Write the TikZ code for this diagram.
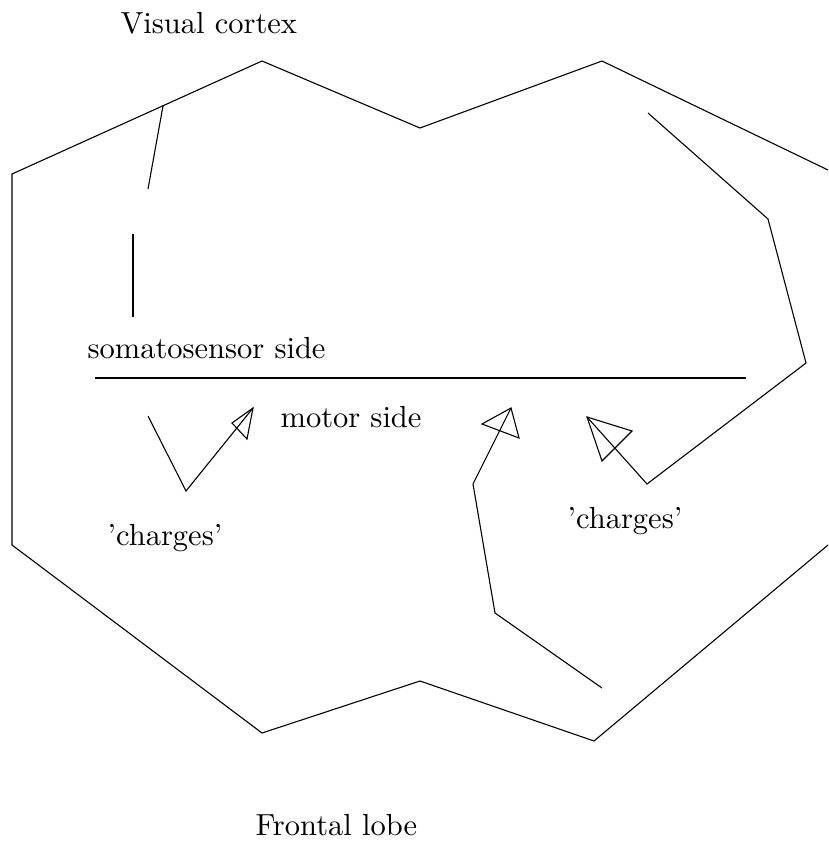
\documentclass[tikz,border=0pt]{standalone}
\usetikzlibrary{calc}
\begin{document}
\begin{tikzpicture}[x=1pt,y=-1pt,
  ln/.style={line width=1.1pt,line join=miter},
  lbl/.style={font=\fontsize{10}{12}\selectfont,scale=3.05,inner sep=0pt,anchor=base west}]
\useasboundingbox (0,0) rectangle (828,849);
% outer outline
\coordinate (o1) at (828,170);
\coordinate (o2) at (602,61);
\coordinate (o3) at (420,128);
\coordinate (o4) at (262,61);
\coordinate (o5) at (12,174);
\coordinate (o6) at (12,545);
\coordinate (o7) at (262,733);
\coordinate (o8) at (420,681);
\coordinate (o9) at (594,741);
\coordinate (o10) at (828,545);
\draw[ln] (o1) -- (o2) -- (o3) -- (o4) -- (o5) -- (o6) -- (o7) -- (o8) -- (o9) -- (o10);
% short lines
\coordinate (v1) at (163,106);
\coordinate (v2) at (148,189);
\draw[ln] (v1) -- (v2);
\coordinate (s1) at (133,234);
\coordinate (s2) at (133,317);
\draw[ln] (s1) -- (s2);
\coordinate (h1) at (95,378);
\coordinate (h2) at (746,378);
\draw[ln] (h1) -- (h2);
% left arrow
\coordinate (a1) at (148,416);
\coordinate (a2) at (186,491);
\coordinate (a3) at (253,408);
\coordinate (ab1) at (232,423);
\coordinate (ab2) at (247,439);
\draw[ln] (a1) -- (a2) -- (a3);
\draw[ln] (a3) -- (ab1) -- (ab2) -- cycle;
% middle arrow
\coordinate (m1) at (602,688);
\coordinate (m2) at (495,613);
\coordinate (m3) at (473,484);
\coordinate (m4) at (511,408);
\coordinate (mb1) at (482,424);
\coordinate (mb2) at (519,438);
\draw[ln] (m1) -- (m2) -- (m3) -- (m4);
\draw[ln] (m4) -- (mb1) -- (mb2) -- cycle;
% right arrow
\coordinate (r1) at (648,113);
\coordinate (r2) at (768,219);
\coordinate (r3) at (806,363);
\coordinate (r4) at (647,484);
\coordinate (r5) at (587,417);
\coordinate (rb1) at (632,431);
\coordinate (rb2) at (602,461);
\draw[ln] (r1) -- (r2) -- (r3) -- (r4) -- (r5);
\draw[ln] (r5) -- (rb1) -- (rb2) -- cycle;
% labels
\node[lbl] (tv) at (120,33) {Visual cortex};
\node[lbl] (ts) at (87,358) {somatosensor side};
\node[lbl] (tm) at (280,427) {motor side};
\node[lbl] (tc1) at (107,545) {'charges'};
\node[lbl] (tc2) at (567,528) {'charges'};
\node[lbl] (tf) at (255,835) {Frontal lobe};
\end{tikzpicture}
\end{document}
